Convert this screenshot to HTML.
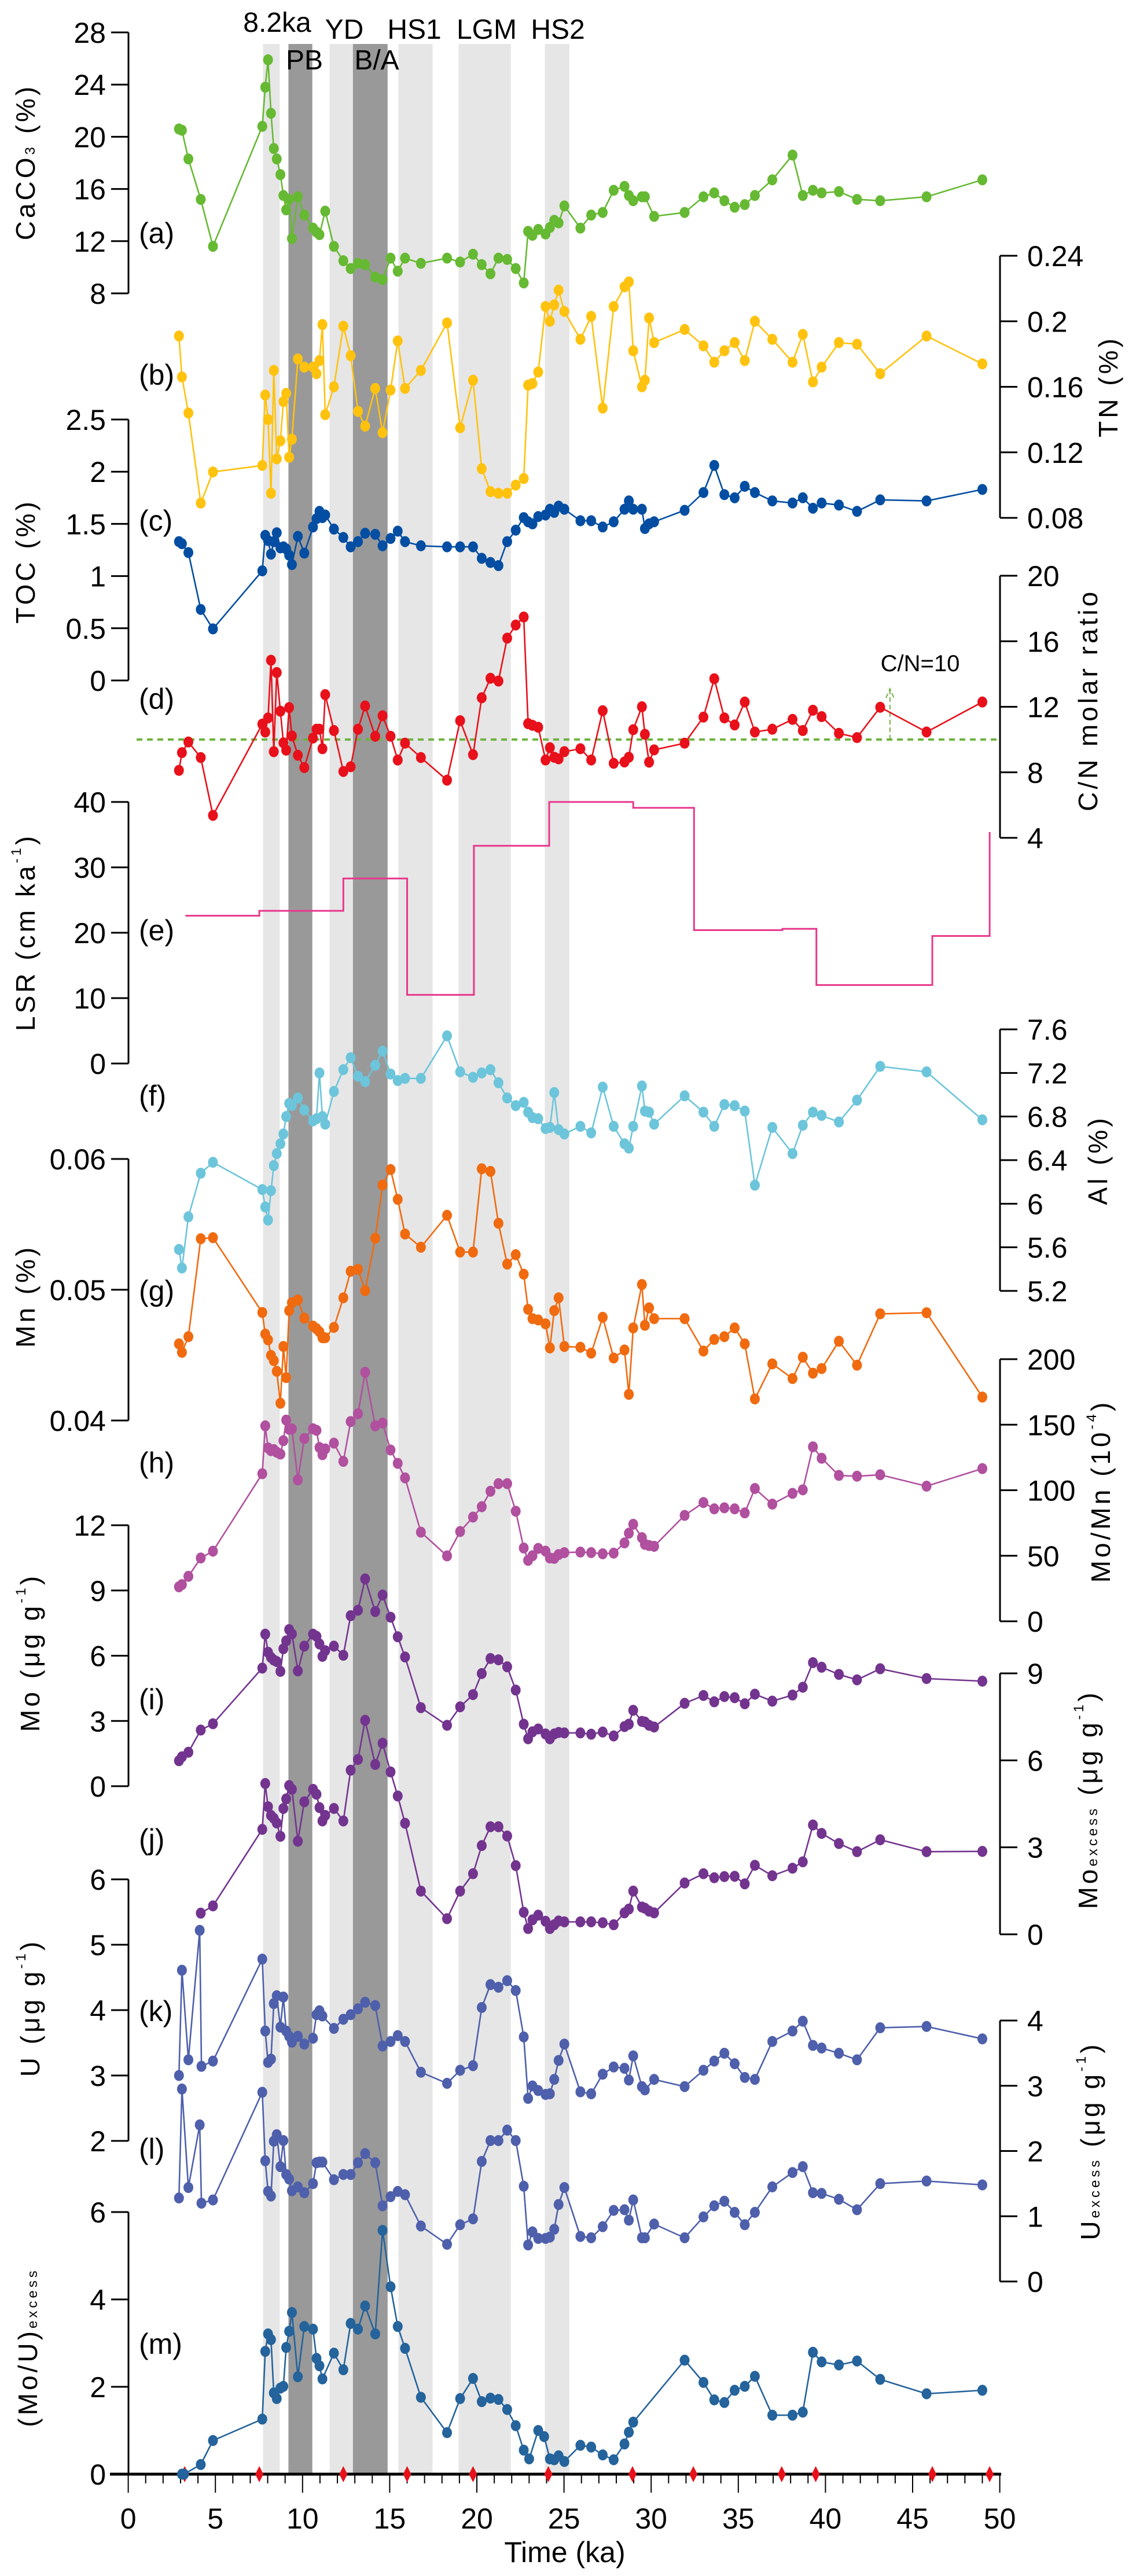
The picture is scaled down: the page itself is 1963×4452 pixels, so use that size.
<!DOCTYPE html>
<html><head><meta charset="utf-8">
<style>
html,body{margin:0;padding:0;background:#fff;}
svg{display:block;}
text{font-family:"Liberation Sans",Arial,sans-serif;fill:#000;}
#titles text.yt{letter-spacing:5px;}
</style></head>
<body>
<svg id="chart" width="1963" height="4452" viewBox="0 0 1963 4452" xmlns="http://www.w3.org/2000/svg">
<g id="bands"></g>
<g id="labels">
<text x="479" y="55" font-size="48" text-anchor="middle">8.2ka</text>
<text x="595" y="67" font-size="48" text-anchor="middle">YD</text>
<text x="716" y="67" font-size="48" text-anchor="middle">HS1</text>
<text x="841" y="67" font-size="48" text-anchor="middle">LGM</text>
<text x="964" y="67" font-size="48" text-anchor="middle">HS2</text>
<text x="526" y="120" font-size="48" text-anchor="middle">PB</text>
<text x="651" y="120" font-size="48" text-anchor="middle">B/A</text>
</g>
<g id="axes"></g>
<g id="series"></g>
<g id="titles">
<text class="yt" transform="translate(44,280) rotate(-90)" font-size="46" text-anchor="middle" dominant-baseline="central">CaCO<tspan font-size="24" dy="8">3</tspan><tspan dy="-8"> (%)</tspan></text>
<text class="yt" transform="translate(1915,668) rotate(-90)" font-size="46" text-anchor="middle" dominant-baseline="central">TN (%)</text>
<text class="yt" transform="translate(44,970) rotate(-90)" font-size="46" text-anchor="middle" dominant-baseline="central">TOC (%)</text>
<text class="yt" transform="translate(1880,1210) rotate(-90)" font-size="46" text-anchor="middle" dominant-baseline="central">C/N molar ratio</text>
<text class="yt" transform="translate(44,1611) rotate(-90)" font-size="46" text-anchor="middle" dominant-baseline="central">LSR (cm ka<tspan font-size="24" dy="-16">-1</tspan><tspan dy="16">)</tspan></text>
<text class="yt" transform="translate(1897,2005) rotate(-90)" font-size="46" text-anchor="middle" dominant-baseline="central">Al (%)</text>
<text class="yt" transform="translate(44,2240) rotate(-90)" font-size="46" text-anchor="middle" dominant-baseline="central">Mn (%)</text>
<text class="yt" transform="translate(1902,2577) rotate(-90)" font-size="46" text-anchor="middle" dominant-baseline="central">Mo/Mn (10<tspan font-size="24" dy="-16">-4</tspan><tspan dy="16">)</tspan></text>
<text class="yt" transform="translate(52,2856) rotate(-90)" font-size="46" text-anchor="middle" dominant-baseline="central">Mo (μg g<tspan font-size="24" dy="-16">-1</tspan><tspan dy="16">)</tspan></text>
<text class="yt" transform="translate(1880,3110) rotate(-90)" font-size="46" text-anchor="middle" dominant-baseline="central">Mo<tspan font-size="24" dy="8">excess</tspan><tspan dy="-8"> (μg g</tspan><tspan font-size="24" dy="-16">-1</tspan><tspan dy="16">)</tspan></text>
<text class="yt" transform="translate(52,3470) rotate(-90)" font-size="46" text-anchor="middle" dominant-baseline="central">U (μg g<tspan font-size="24" dy="-16">-1</tspan><tspan dy="16">)</tspan></text>
<text class="yt" transform="translate(1884,3700) rotate(-90)" font-size="46" text-anchor="middle" dominant-baseline="central">U<tspan font-size="24" dy="8">excess</tspan><tspan dy="-8"> (μg g</tspan><tspan font-size="24" dy="-16">-1</tspan><tspan dy="16">)</tspan></text>
<text class="yt" transform="translate(48,4057) rotate(-90)" font-size="46" text-anchor="middle" dominant-baseline="central">(Mo/U)<tspan font-size="24" dy="8">excess</tspan></text>
<text x="976" y="4428" font-size="50" text-anchor="middle">Time (ka)</text>
<text x="1590" y="1160" font-size="40" text-anchor="middle">C/N=10</text>
</g>
</svg>
<script>
// ---------- data ----------
const bandStart = [7.73, 9.19, 11.55, 12.89, 15.5, 18.95, 23.9];
const bandEnd   = [8.69, 10.56, 12.89, 14.88, 17.46, 21.95, 25.31];
const bandDark  = [false, true, false, true, false, false, false];

const sampleAge = [2.91,3.08,3.45,4.16,4.86,7.69,7.86,8.02,8.19,8.35,8.52,8.73,8.9,9.06,9.23,9.39,9.73,10.1,10.6,10.8,10.97,11.14,11.3,11.8,12.34,12.76,13.18,13.59,14.17,14.59,15.05,15.46,15.88,16.79,18.29,19.04,19.78,20.28,20.78,21.24,21.74,22.23,22.69,22.94,23.19,23.52,23.94,24.19,24.44,24.69,25.02,25.94,26.56,27.22,27.85,28.47,28.72,28.97,29.47,29.64,29.88,30.17,31.92,33.0,33.62,34.2,34.79,35.37,35.95,36.95,38.11,38.7,39.28,39.78,40.77,41.81,43.14,45.8,49.0];

const caco3Age = [2.91,3.08,3.45,4.16,4.86,7.69,7.86,8.02,8.19,8.35,8.52,8.73,8.9,9.06,9.23,9.39,9.73,10.1,10.6,10.8,10.97,11.3,11.8,12.34,12.76,13.18,13.59,14.17,14.59,15.05,15.46,15.88,16.79,18.29,19.04,19.78,20.28,20.78,21.24,21.74,22.23,22.69,22.94,23.19,23.52,23.94,24.19,24.44,24.69,25.02,25.94,26.56,27.22,27.85,28.47,28.72,28.97,29.47,29.64,30.17,31.92,33.0,33.62,34.2,34.79,35.37,35.95,36.95,38.11,38.7,39.28,39.78,40.77,41.81,43.14,45.8,49.0];
const caco3Val = [20.6,20.5,18.3,15.2,11.6,20.8,23.8,25.9,21.8,19.1,18.3,17.1,15.5,14.4,15.2,12.2,15.4,14.0,13.0,12.7,12.5,14.3,11.6,10.5,9.9,10.3,10.2,9.25,9.05,10.7,9.7,10.7,10.3,10.7,10.4,11.0,10.2,9.5,10.7,10.6,9.9,8.8,12.75,12.45,12.9,12.55,13.05,13.6,13.4,14.7,13.0,14.0,14.2,15.9,16.2,15.5,15.1,15.4,15.4,13.9,14.2,15.4,15.7,15.1,14.6,14.8,15.5,16.7,18.6,15.5,15.9,15.7,15.8,15.2,15.1,15.4,16.7];

const tnVal = [0.191,0.166,0.144,0.089,0.108,0.112,0.155,0.14,0.095,0.17,0.116,0.127,0.151,0.156,0.117,0.128,0.177,0.172,0.172,0.168,0.176,0.198,0.143,0.16,0.197,0.179,0.145,0.136,0.159,0.132,0.158,0.188,0.159,0.17,0.199,0.135,0.164,0.11,0.096,0.095,0.095,0.1,0.104,0.161,0.162,0.169,0.209,0.2,0.21,0.219,0.206,0.189,0.203,0.147,0.209,0.221,0.224,0.182,0.16,0.164,0.202,0.187,0.195,0.185,0.175,0.182,0.187,0.176,0.2,0.189,0.175,0.192,0.163,0.172,0.187,0.186,0.168,0.191,0.174];

const tocVal = [1.33,1.31,1.225,0.68,0.494,1.05,1.39,1.34,1.21,1.33,1.415,1.27,1.28,1.26,1.2,1.11,1.38,1.22,1.47,1.55,1.62,1.56,1.585,1.45,1.37,1.28,1.33,1.41,1.4,1.29,1.36,1.43,1.33,1.29,1.28,1.28,1.28,1.17,1.13,1.1,1.33,1.44,1.56,1.52,1.5,1.57,1.585,1.64,1.61,1.67,1.64,1.53,1.53,1.47,1.52,1.64,1.72,1.64,1.64,1.455,1.5,1.52,1.63,1.8,2.06,1.78,1.75,1.86,1.8,1.72,1.7,1.75,1.65,1.7,1.68,1.62,1.73,1.72,1.83];

const cnVal = [8.12,9.2,9.85,8.9,5.37,10.94,10.46,11.32,14.84,9.26,14.09,11.73,9.8,9.35,11.95,10.22,9.04,8.29,10.09,10.63,10.63,9.44,12.74,10.55,8.05,8.34,10.63,12.05,10.2,11.45,10.2,8.75,9.78,8.9,7.52,11.15,9.08,12.55,13.74,13.57,16.19,16.99,17.48,10.97,10.87,10.75,8.75,9.5,8.92,8.82,9.26,9.44,8.75,11.76,8.55,8.63,8.92,10.6,12,10.32,8.62,9.37,9.78,11.37,13.71,11.32,10.89,12.29,10.46,10.63,11.23,10.55,11.79,11.4,10.38,10.12,11.97,10.46,12.29];
const cnThreshold = 10;

const lsrEdges = [3.28,7.52,12.34,16.0,19.83,24.15,28.97,32.46,37.53,39.48,46.13,49.42];
const lsrVal = [22.6,23.35,28.3,10.5,33.3,40,39.1,20.4,20.6,12.0,19.5];
const lsrLast = 35.4;
const datingAge = [3.24,7.52,12.34,16.0,19.78,24.1,28.93,32.42,37.49,39.44,46.13,49.42];

const alVal = [5.58,5.41,5.88,6.28,6.38,6.13,5.97,5.85,6.12,6.35,6.46,6.55,6.64,6.8,6.92,6.9,6.97,6.86,6.76,6.78,7.2,6.8,6.73,7.03,7.23,7.34,7.17,7.12,7.27,7.4,7.19,7.13,7.15,7.15,7.54,7.21,7.16,7.2,7.23,7.11,6.97,6.9,6.93,6.84,6.79,6.78,6.69,6.7,7.02,6.68,6.64,6.71,6.65,7.07,6.71,6.55,6.51,6.71,7.08,6.85,6.84,6.73,6.99,6.84,6.71,6.91,6.9,6.85,6.17,6.7,6.46,6.72,6.84,6.81,6.75,6.95,7.26,7.21,6.77];

const mnVal = [0.04586,0.04521,0.04641,0.0539,0.05398,0.04826,0.04661,0.04617,0.04498,0.04458,0.04376,0.04132,0.04566,0.04328,0.0484,0.04901,0.04922,0.04783,0.04722,0.04702,0.04678,0.04633,0.04633,0.04712,0.04938,0.05141,0.05156,0.04993,0.05394,0.05801,0.05919,0.05691,0.05426,0.05325,0.05569,0.05288,0.05288,0.05925,0.05905,0.05508,0.05196,0.05268,0.05119,0.0485,0.04779,0.04769,0.04739,0.04555,0.0484,0.04938,0.04566,0.0456,0.04515,0.04789,0.04478,0.04539,0.042,0.04708,0.0504,0.04728,0.04861,0.04779,0.04779,0.04531,0.0462,0.04641,0.04708,0.04586,0.04165,0.04433,0.04321,0.04484,0.04362,0.04397,0.04606,0.04423,0.04816,0.04824,0.04179];

const moMnVal = [26.3,28,34.3,48.3,53.5,112.6,149.1,132.3,130.2,131,129,127.6,137.8,153.5,146.5,146.8,107.9,139.4,146.9,145.7,132.6,127.1,131.5,135.9,122,152.4,158.3,190,149.1,151.2,130.7,120.5,109.4,68,49.9,68.5,79.5,87.4,99.2,105,105,84,55.9,46.5,50,55.6,53.5,48.3,48,50.9,52.4,52.8,52.4,51.5,52,59.8,67.2,74,63.8,58.7,57.8,57.2,80.8,90.6,85.8,86.6,85.8,82.7,101.3,89.4,97.6,100.3,133.1,124.4,111.3,110.7,111.8,103.1,116.5];

const moVal = [1.17,1.35,1.56,2.58,2.87,5.43,6.99,6.16,5.92,5.8,5.73,5.28,6.32,6.68,7.2,7.0,5.3,6.44,6.99,6.89,6.54,5.97,6.23,6.44,6.02,7.84,8.09,9.53,8.03,8.79,7.77,6.87,5.94,3.61,2.8,3.65,4.21,5.18,5.87,5.81,5.49,4.42,2.85,2.18,2.5,2.63,2.4,2.18,2.4,2.47,2.45,2.45,2.39,2.49,2.31,2.74,2.85,3.49,2.98,2.95,2.8,2.72,3.81,4.17,3.88,4.12,4.07,3.79,4.23,3.91,4.19,4.55,5.68,5.47,5.14,4.89,5.4,4.95,4.83];

const moExAge = sampleAge.slice(3);
const moExVal = [0.73,0.98,3.62,5.2,4.4,4.1,4.0,3.84,3.38,4.34,4.67,5.13,5.0,3.21,4.57,5.0,4.83,4.37,3.91,4.1,4.34,3.91,5.66,6.03,7.38,5.86,6.59,5.6,4.77,3.83,1.49,0.54,1.49,2.09,3.06,3.71,3.71,3.39,2.37,0.76,0.2,0.5,0.66,0.45,0.2,0.33,0.46,0.43,0.43,0.43,0.4,0.33,0.74,0.87,1.49,0.94,0.9,0.8,0.74,1.77,2.09,1.95,1.99,2.0,1.74,2.38,2.02,2.28,2.5,3.77,3.48,3.13,2.85,3.26,2.85,2.86];

const uAge = [2.91,3.08,3.45,4.1,4.2,4.86,7.69,7.86,8.02,8.19,8.35,8.52,8.73,8.9,9.06,9.23,9.39,9.73,10.1,10.6,10.8,10.97,11.14,11.8,12.34,12.76,13.18,13.59,14.17,14.59,15.05,15.46,15.88,16.79,18.29,19.04,19.78,20.28,20.78,21.24,21.74,22.23,22.69,22.94,23.19,23.52,23.94,24.19,24.44,24.69,25.02,25.94,26.56,27.22,27.85,28.47,28.72,28.97,29.47,29.64,30.17,31.92,33.0,33.62,34.2,34.79,35.37,35.95,36.95,38.11,38.7,39.28,39.78,40.77,41.81,43.14,45.8,49.0];
const uVal = [3.0,4.61,3.24,5.22,3.14,3.22,4.78,3.68,3.2,3.25,4.1,4.22,3.74,4.2,3.68,3.6,3.51,3.6,3.48,3.57,3.93,3.99,3.91,3.72,3.86,3.93,4.02,4.12,4.07,3.45,3.52,3.61,3.52,3.05,2.88,3.08,3.15,4.04,4.39,4.35,4.45,4.3,3.59,2.65,2.84,2.77,2.71,2.72,2.94,3.23,3.48,2.75,2.72,3.02,3.13,3.11,2.93,3.3,2.83,2.78,2.94,2.83,3.08,3.22,3.34,3.18,2.97,2.94,3.52,3.68,3.83,3.46,3.42,3.34,3.24,3.73,3.75,3.56];
const uExVal = [1.28,2.95,1.44,2.4,1.2,1.25,2.9,1.85,1.38,1.31,2.15,2.25,1.76,2.16,1.64,1.57,1.39,1.45,1.36,1.5,1.82,1.83,1.83,1.56,1.64,1.64,1.82,1.96,1.82,1.16,1.3,1.38,1.33,0.85,0.57,0.87,0.96,1.84,2.16,2.16,2.32,2.16,1.46,0.56,0.76,0.66,0.66,0.68,0.8,1.18,1.44,0.69,0.67,0.84,1.09,1.1,0.94,1.25,0.67,0.67,0.88,0.67,0.99,1.16,1.23,1.06,0.87,1.06,1.45,1.67,1.76,1.36,1.35,1.26,1.1,1.5,1.54,1.48];

const moUAge = [3.08,3.2,4.16,4.86,7.69,7.86,8.02,8.19,8.35,8.52,8.73,8.9,9.06,9.23,9.39,9.73,10.1,10.6,10.8,10.97,11.14,11.8,12.34,12.76,13.18,13.59,14.17,14.59,15.05,15.46,15.88,16.79,18.29,19.04,19.78,20.28,20.78,21.24,21.74,22.23,22.69,23.0,23.52,23.86,24.19,24.44,24.69,25.02,25.94,26.56,27.22,27.85,28.47,28.72,28.97,31.92,33.0,33.62,34.2,34.79,35.37,35.95,36.95,38.11,38.7,39.28,39.78,40.77,41.81,43.14,45.8,49.0];
const moUVal = [0,0,0.22,0.77,1.26,2.81,3.21,3.08,1.86,1.73,1.97,2.01,2.9,3.27,3.7,2.23,3.38,3.32,2.65,2.48,2.18,2.77,2.39,3.45,3.32,3.85,3.21,5.58,4.29,3.38,2.88,1.76,0.95,1.73,2.19,1.66,1.74,1.71,1.48,1.11,0.55,0.35,1.0,0.86,0.35,0.33,0.42,0.29,0.66,0.62,0.44,0.33,0.69,0.96,1.19,2.61,2.1,1.7,1.64,1.92,2.01,2.24,1.35,1.35,1.42,2.79,2.57,2.5,2.59,2.17,1.84,1.92];

const xTicks = [0,5,10,15,20,25,30,35,40,45,50];

// ---------- helpers ----------
const NS = "http://www.w3.org/2000/svg";
const X0 = 221.6, XK = 30.12, AXL = 222, AXR = 1728, AXIS_Y = 4276;
function xs(t){ return X0 + t*XK; }
function lin(v0,y0,v1,y1){ return v => y0 + (v-v0)*(y1-y0)/(v1-v0); }
function mk(tag, attrs, parent){
  const e = document.createElementNS(NS, tag);
  for (const k in attrs) e.setAttribute(k, attrs[k]);
  parent.appendChild(e); return e;
}
const gB = document.getElementById('bands');
const gA = document.getElementById('axes');
const gS = document.getElementById('series');

for (let i=0;i<bandStart.length;i++){
  const r = mk('rect',{x:xs(bandStart[i]),y:76,width:xs(bandEnd[i])-xs(bandStart[i]),height:AXIS_Y-76,fill:bandDark[i]?'#999999':'#e6e6e6'},gB);
  
  
}

function yAxis(side, ticks, scale, fmt, name){
  const ax = side==='L'?AXL:AXR;
  const g = mk('g',{},gA);
  
  
  const ys = ticks.map(scale);
  mk('line',{x1:ax,x2:ax,y1:Math.min(...ys),y2:Math.max(...ys),stroke:'#000','stroke-width':3},g);
  ticks.forEach((v,i)=>{
    const y = ys[i];
    if (side==='L'){
      mk('line',{x1:ax-30,x2:ax,y1:y,y2:y,stroke:'#000','stroke-width':3},g);
      const t = mk('text',{x:183,y:y+18,'font-size':50,'text-anchor':'end'},g);
      t.textContent = fmt(v);
    } else {
      mk('line',{x1:ax,x2:ax+30,y1:y,y2:y,stroke:'#000','stroke-width':3},g);
      const t = mk('text',{x:1775,y:y+18,'font-size':50,'text-anchor':'start'},g);
      t.textContent = fmt(v);
    }
  });
}
function series(ages, vals, scale, color, name){
  const g = mk('g',{},gS);
  
  
  const n = Math.min(ages.length, vals.length);
  let d = '';
  for (let i=0;i<n;i++) d += (i?'L':'M') + xs(ages[i]).toFixed(1) + ' ' + scale(vals[i]).toFixed(1);
  mk('path',{d:d,fill:'none',stroke:color,'stroke-width':2.6,'stroke-linejoin':'round'},g);
  for (let i=0;i<n;i++){
    const c = mk('ellipse',{cx:xs(ages[i]),cy:scale(vals[i]),rx:8.5,ry:9.5,fill:color},g);
    
    
  }
}
function panelLabel(txt, y){
  const t = mk('text',{x:240,y:y+18,'font-size':50},gA);
  t.textContent = txt;
  
  
}
const f0 = v => String(+v.toFixed(3));

const sA = lin(28,56,8,507);
const sB = lin(0.24,442,0.08,895);
const sC = lin(2.5,725,0,1176);
const sD = lin(20,995,4,1448);
const sE = lin(40,1386,0,1838);
const sF = lin(7.6,1779,5.2,2231);
const sG = lin(0.06,2003,0.04,2455);
const sH = lin(200,2349,0,2802);
const sI = lin(12,2636,0,3087);
const sJ = lin(9,2892,0,3343);
const sK = lin(6,3248,2,3700);
const sL = lin(4,3492,0,3943);
const sM = lin(6,3823,0,4276);

yAxis('L',[8,12,16,20,24,28],sA,f0,'y-axis-caco3');
yAxis('R',[0.08,0.12,0.16,0.2,0.24],sB,f0,'y-axis-tn');
yAxis('L',[0,0.5,1,1.5,2,2.5],sC,f0,'y-axis-toc');
yAxis('R',[4,8,12,16,20],sD,f0,'y-axis-cn');
yAxis('L',[0,10,20,30,40],sE,f0,'y-axis-lsr');
yAxis('R',[5.2,5.6,6,6.4,6.8,7.2,7.6],sF,f0,'y-axis-al');
yAxis('L',[0.04,0.05,0.06],sG,f0,'y-axis-mn');
yAxis('R',[0,50,100,150,200],sH,f0,'y-axis-mo-mn');
yAxis('L',[0,3,6,9,12],sI,f0,'y-axis-mo');
yAxis('R',[0,3,6,9],sJ,f0,'y-axis-mo-excess');
yAxis('L',[2,3,4,5,6],sK,f0,'y-axis-u');
yAxis('R',[0,1,2,3,4],sL,f0,'y-axis-u-excess');
yAxis('L',[0,2,4,6],sM,f0,'y-axis-mo-u-excess');

[['(a)',402],['(b)',647],['(c)',899],['(d)',1207],['(e)',1607],['(f)',1893],['(g)',2230],['(h)',2527],['(i)',2936],['(j)',3178],['(k)',3475],['(l)',3713],['(m)',4050]].forEach(p=>panelLabel(p[0],p[1]));

const dl = mk('line',{x1:236,x2:AXR,y1:sD(cnThreshold),y2:sD(cnThreshold),stroke:'#6db33f','stroke-width':4,'stroke-dasharray':'10 8'},gS);


const ax = xs(43.7);
const ar = mk('path',{d:`M${ax} ${sD(cnThreshold)} V${sD(13.1)} M${ax-7} ${sD(13.1)+16} L${ax} ${sD(13.1)} L${ax+7} ${sD(13.1)+16}`,fill:'none',stroke:'#6db33f','stroke-width':2,'stroke-dasharray':'8 5'},gS);



series(caco3Age, caco3Val, sA, '#66b932', 'series-caco3');
series(sampleAge, tnVal, sB, '#ffc20e', 'series-tn');
series(sampleAge, tocVal, sC, '#034ea2', 'series-toc');
series(sampleAge, cnVal, sD, '#e8101a', 'series-cn');
series(sampleAge, alVal, sF, '#6cc5da', 'series-al');
series(sampleAge, mnVal, sG, '#f06a0f', 'series-mn');
series(sampleAge, moMnVal, sH, '#b0509e', 'series-mo-mn');
series(sampleAge, moVal, sI, '#73348f', 'series-mo');
series(moExAge, moExVal, sJ, '#73348f', 'series-mo-excess');
series(uAge, uVal, sK, '#4e5fab', 'series-u');
series(uAge, uExVal, sL, '#4e5fab', 'series-u-excess');
series(moUAge, moUVal, sM, '#24639b', 'series-mo-u-excess');

let d = `M${xs(lsrEdges[0])} ${sE(lsrVal[0])}`;
for (let i=0;i<lsrVal.length;i++){
  d += ` V${sE(lsrVal[i])} H${xs(lsrEdges[i+1])}`;
}
d += ` V${sE(lsrLast)}`;
const lp = mk('path',{d:d,fill:'none',stroke:'#e8378c','stroke-width':3},gS);



const gx = mk('g',{},gA);


mk('line',{x1:190,x2:AXR+2,y1:AXIS_Y,y2:AXIS_Y,stroke:'#000','stroke-width':5},gx);
for (let t=0;t<=50;t++){
  const major = t%5===0;
  mk('line',{x1:xs(t),x2:xs(t),y1:AXIS_Y,y2:AXIS_Y+(major?32:16),stroke:'#000','stroke-width':2},gx);
}
xTicks.forEach(t=>{
  const tx = mk('text',{x:xs(t),y:4370,'font-size':50,'text-anchor':'middle'},gx);
  tx.textContent = t;
});
datingAge.forEach(t=>{
  const x = xs(t), y = AXIS_Y;
  const p = mk('path',{d:`M${x} ${y-14} L${x+7} ${y} L${x} ${y+14} L${x-7} ${y} Z`,fill:'#e8101a'},gx);
  
  
});
</script>
</body></html>
